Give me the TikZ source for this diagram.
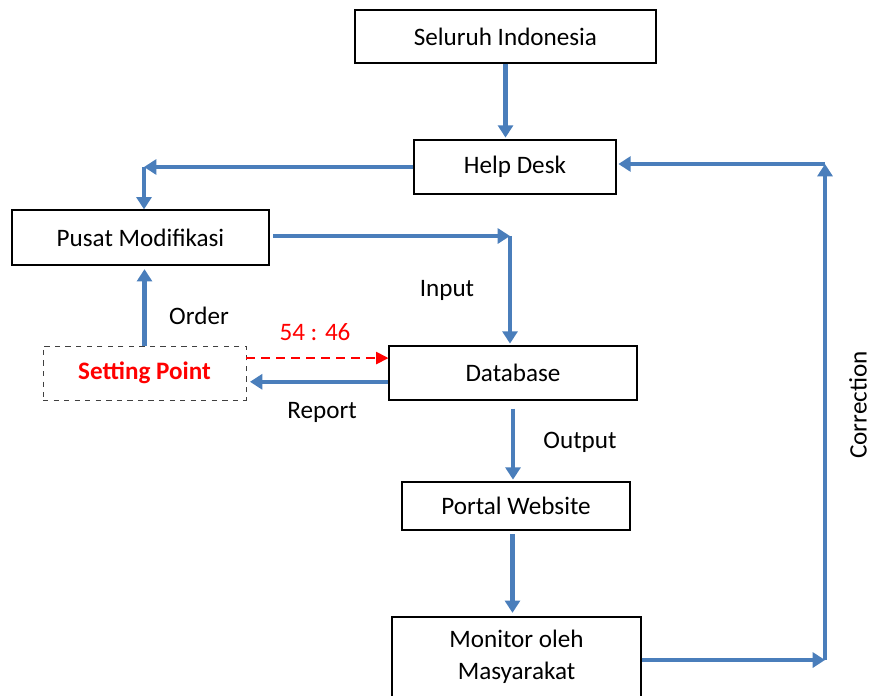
\documentclass[tikz,border=0pt]{standalone}
\usepackage{fontspec}
\setmainfont{Carlito}
\usepackage{xcolor}
\usepackage{tikz}
\usetikzlibrary{arrows.meta, positioning, calc}
\definecolor{flowblue}{HTML}{4A7EBB}

\begin{document}
\begin{tikzpicture}[font=\fontsize{14.3}{18}\selectfont,
    box/.style={draw, line width=0.7pt, minimum height=1.08cm, inner sep=2pt},
    flow/.style={flowblue, line width=2.3pt, -{Triangle[length=7pt, width=8.5pt]}},
    lbl/.style={inner sep=1pt}]
    \useasboundingbox (0,0) rectangle (17.62,13.9);

    \node [box, minimum width=6.02cm, minimum height=1.06cm] (SI) at (10.11,13.17) {Seluruh Indonesia};
    \node [box, minimum width=4.04cm] (HD) at (10.3,10.56) {Help Desk};
    \node [box, minimum width=5.14cm, minimum height=1.1cm] (PM) at (2.81,9.15) {Pusat Modifikasi};
    \node [box, draw=black!75, dashed, line width=0.5pt, minimum width=4.06cm, text=red, font=\fontsize{14.3}{18}\selectfont\bfseries] (SP) at (2.89,6.44) {Setting Point};
    \node [box, minimum width=4.96cm] (DB) at (10.26,6.44) {Database};
    \node [box, minimum width=4.56cm, minimum height=0.96cm] (PW) at (10.32,3.78) {Portal Website};
    \node [box, minimum width=4.98cm, minimum height=1.6cm, align=center] (MM) at (10.33,0.76) {Monitor oleh\\Masyarakat};

    \coordinate (hdL) at (2.88,10.56);
    \coordinate (pmR) at (10.2,9.18);
    \coordinate (mmR) at (16.5,0.7);
    \coordinate (hdR) at (16.5,10.62);

    \draw [flow] (SI.south) -- ([yshift=1pt]SI.south |- HD.north);
    \draw [flow] (HD.west) -- (hdL);
    \draw [flow] (hdL) -- (hdL |- PM.north);
    \draw [flow] ([xshift=2pt]PM.east |- pmR) -- (pmR);
    \draw [flow] (pmR) -- ([yshift=1pt]pmR |- DB.north);
    \draw [flow] (SP.north) -- ([yshift=-2pt]SP.north |- PM.south);
    \draw [red, line width=1pt, dash pattern=on 5pt off 3.5pt, -{Triangle[length=7pt, width=7pt]}] ([yshift=8.5pt]SP.east) -- ([yshift=8.5pt]DB.west);
    \draw [flow] ([yshift=-5pt]DB.west) -- ([yshift=-5pt, xshift=2pt]SP.east);
    \draw [flow] ([yshift=-4.5pt]DB.south) -- ([yshift=1pt]DB.south |- PW.north);
    \draw [flow] ([xshift=-2pt, yshift=-2pt]PW.south) -- ([xshift=-2pt, yshift=2pt]PW.south |- MM.north);
    \draw [flow] (MM.east |- mmR) -- (mmR);
    \draw [flow] (mmR) -- (hdR);
    \draw [flow] (hdR) -- ([xshift=1pt]HD.east |- hdR);

    \node [lbl] (in) at (8.94,8.1) {Input};
    \node [lbl] (ord) at (3.98,7.58) {Order};
    \node [lbl, text=red] (ratio) at (6.3,7.26) {54 : 46};
    \node [lbl] (rep) at (6.44,5.66) {Report};
    \node [lbl] (out) at (11.6,5.06) {Output};
    \node [lbl, rotate=90] (cor) at (17.16,5.8) {Correction};
\end{tikzpicture}
\end{document}
